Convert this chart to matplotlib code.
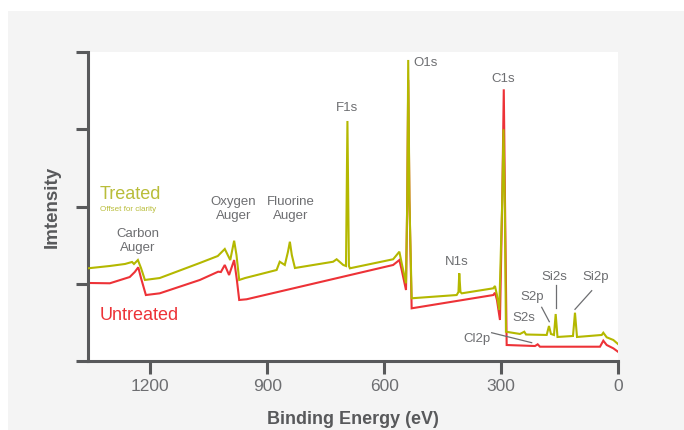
import matplotlib
matplotlib.use("Agg")
import matplotlib.pyplot as plt
from matplotlib.patches import Rectangle

plt.rcParams['font.family'] = ['Liberation Sans', 'DejaVu Sans']

# ---- data (binding energy in eV, intensity in arbitrary units) ----
treated_energy = [1360, 1304, 1265, 1247, 1242, 1232, 1224, 1214, 1176, 1073,
                  1027, 1009, 995, 985, 979, 972, 957, 876, 868, 855,
                  847, 842, 837, 829, 731, 722, 705, 698, 694.3, 690.5,
                  688, 577, 561, 555, 544, 540.8, 538.3, 535.2, 529.5, 414,
                  409.4, 407.3, 404.3, 401, 320, 315.7, 310.6, 304.7, 297, 293.9,
                  290.6, 287.5, 251.5, 240.5, 236, 183, 177.1, 172, 164.3, 159.9,
                  155.3, 115.5, 110.4, 105.2, 41.8, 37.7, 29, 12, 0]
treated_intensity = [1.20, 1.23, 1.256, 1.282, 1.256, 1.307, 1.204, 1.049, 1.074, 1.269,
                     1.359, 1.450, 1.307, 1.557, 1.372, 1.049, 1.074, 1.178, 1.285, 1.243,
                     1.411, 1.544, 1.372, 1.204, 1.285, 1.317, 1.243, 1.230, 3.107, 1.230,
                     1.200, 1.317, 1.415, 1.265, 1.006, 2.084, 3.897, 2.084, 0.812, 0.854,
                     0.893, 1.135, 0.893, 0.876, 0.941, 0.971, 0.854, 0.660, 2.084, 2.999,
                     2.084, 0.379, 0.350, 0.379, 0.343, 0.337, 0.453, 0.350, 0.337, 0.608,
                     0.311, 0.324, 0.625, 0.311, 0.337, 0.366, 0.307, 0.272, 0.220]

untreated_energy = [1360, 1304, 1253, 1240, 1231, 1224, 1211.5, 1176, 1073, 1026,
                    1019, 1009, 998, 985, 978, 972, 953, 577, 561, 555,
                    544, 540.8, 538.3, 535.2, 529.5, 320, 315.7, 310.6, 302.9, 297,
                    293.1, 290, 285.7, 213, 206.1, 200.2, 46.2, 37.7, 29, 12, 0]
untreated_intensity = [1.010, 1.006, 1.087, 1.152, 1.213, 1.074, 0.854, 0.876, 1.049, 1.156,
                       1.152, 1.243, 1.113, 1.307, 1.049, 0.790, 0.799, 1.243, 1.307, 1.178,
                       0.919, 2.084, 3.638, 2.084, 0.682, 0.854, 0.884, 0.790, 0.531, 2.084,
                       3.517, 2.084, 0.207, 0.194, 0.216, 0.185, 0.185, 0.263, 0.207, 0.164, 0.120]

x_ticks = [1200, 900, 600, 300, 0]
y_ticks = [0, 1, 2, 3, 4]

# peak labels: text, energy, intensity, horizontal alignment
peak_labels = [
    ("F1s", 695.6, 3.271, "center"),
    ("O1s", 525.4, 3.862, "left"),
    ("C1s", 294.4, 3.647, "center"),
    ("N1s", 412.5, 1.285, "center"),
    ("Cl2p", 361.9, 0.281, "center"),
    ("S2s", 241.3, 0.553, "center"),
    ("S2p", 221.5, 0.832, "center"),
    ("Si2s", 163.5, 1.083, "center"),
    ("Si2p", 56.5, 1.083, "center"),
    ("Carbon\nAuger", 1232.8, 1.557, "center"),
    ("Oxygen\nAuger", 987.4, 1.968, "center"),
    ("Fluorine\nAuger", 839.3, 1.968, "center"),
]
# leader lines: (E1, I1, E2, I2)
leader_lines = [
    (324.2, 0.366, 221.5, 0.237),
    (195.8, 0.695, 176.3, 0.509),
    (159.9, 0.984, 159.9, 0.682),
    (67.5, 0.910, 110.4, 0.669),
]

# ---- styling ----
YELLOW = "#b4b800"
YELLOW_TXT = "#b9bd3a"
RED = "#ed3237"
SPINE = "#58595b"
TXT = "#6d6e71"

fig = plt.figure(figsize=(6.84, 4.30), dpi=100, facecolor="#f4f4f4")
fig.patches.append(Rectangle((0, 0), 8 / 684, 1, transform=fig.transFigure,
                             facecolor="white", edgecolor="none", zorder=0))
fig.patches.append(Rectangle((0, 1 - 11 / 430), 1, 11 / 430, transform=fig.transFigure,
                             facecolor="white", edgecolor="none", zorder=0))

ax = fig.add_axes([88 / 684, 69 / 430, 530 / 684, 309 / 430])
ax.set_facecolor("white")

ax.plot(untreated_energy, untreated_intensity, color=RED, lw=1.5, zorder=2,
        solid_joinstyle="miter")
ax.plot(treated_energy, treated_intensity, color=YELLOW, lw=1.5, zorder=3,
        solid_joinstyle="miter")

ax.set_xlim(1360, 0)
ax.set_ylim(0, 4)
ax.set_xticks(x_ticks)
ax.set_xticklabels([str(v) for v in x_ticks])
ax.set_yticks(y_ticks)
ax.set_yticklabels([])

for side in ("top", "right"):
    ax.spines[side].set_visible(False)
for side in ("left", "bottom"):
    ax.spines[side].set_color(SPINE)
    ax.spines[side].set_linewidth(2.2)
ax.tick_params(axis="both", direction="out", length=9, width=2.2, color=SPINE)
ax.tick_params(axis="x", labelsize=12.5, labelcolor=TXT, pad=4)

ax.set_xlabel("Binding Energy (eV)", fontsize=13, fontweight="bold", color=SPINE)
ax.xaxis.label.set_va("center")
ax.xaxis.set_label_coords(0.5, -0.188)
ax.set_ylabel("Imtensity", fontsize=13.5, fontweight="bold", color=SPINE)
ax.yaxis.label.set_va("center")
ax.yaxis.set_label_coords(-0.067, 0.5)

for txt, e, i, ha in peak_labels:
    ax.text(e, i, txt, ha=ha, va="center", fontsize=9.5, color=TXT,
            linespacing=1.25, zorder=4)

for e1, i1, e2, i2 in leader_lines:
    ax.plot([e1, e2], [i1, i2], color=TXT, lw=0.9, zorder=4)

ax.text(1329.6, 2.149, "Treated", ha="left", va="center", fontsize=13, color=YELLOW_TXT)
ax.text(1329.6, 1.964, "Offset for clarity", ha="left", va="center", fontsize=5.8,
        color=YELLOW_TXT)
ax.text(1329.6, 0.595, "Untreated", ha="left", va="center", fontsize=13, color=RED)

fig.savefig("out.png", dpi=100, facecolor=fig.get_facecolor())
